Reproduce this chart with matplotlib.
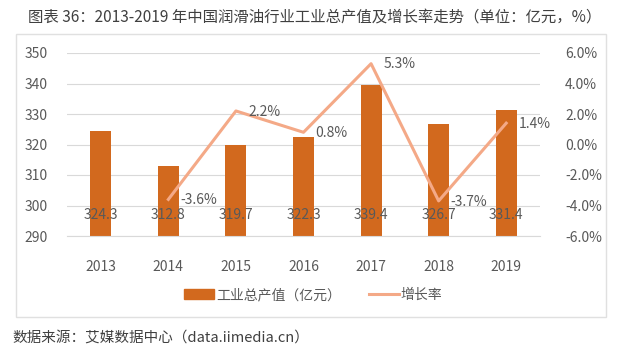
import matplotlib.pyplot as plt
import matplotlib.patches as mpatches
import numpy as np

plt.rcParams['font.family'] = ['Noto Sans CJK SC', 'DejaVu Sans']

years = ['2013', '2014', '2015', '2016', '2017', '2018', '2019']
output = [324.3, 312.8, 319.7, 322.3, 339.4, 326.7, 331.4]
growth_years = ['2014', '2015', '2016', '2017', '2018', '2019']
growth = [-3.6, 2.2, 0.8, 5.3, -3.7, 1.4]

BAR_COLOR = '#D2691E'
LINE_COLOR = '#F4A987'
TEXT_COLOR = '#595959'

fig = plt.figure(figsize=(6.4, 3.6), dpi=100)
ax = fig.add_axes([67 / 640, 1 - 236 / 360, (540 - 67) / 640, (236 - 53) / 360])
ax2 = ax.twinx()

x = np.arange(len(years))
ax.bar(x, [v - 290 for v in output], bottom=290, width=0.31, color=BAR_COLOR, zorder=2)
for xi, v in zip(x, output):
    ax.text(xi, 297, f'{v:.1f}', ha='center', va='center', fontsize=10, color=TEXT_COLOR, zorder=4)

ax.set_ylim(290, 350)
ax.set_yticks(range(290, 351, 10))
ax.set_xlim(-0.5, len(years) - 0.5)
ax.set_xticks(x)
ax.set_xticklabels(years)
ax.grid(axis='y', color='#D9D9D9', lw=0.8, zorder=0)
ax.set_axisbelow(True)
for s in ax.spines.values():
    s.set_visible(False)
ax.spines['bottom'].set_visible(True)
ax.spines['bottom'].set_color('#D9D9D9')
ax.tick_params(length=0, labelsize=10, labelcolor=TEXT_COLOR)
ax.tick_params(axis='x', pad=17)
ax.tick_params(axis='y', pad=14)

gx = [years.index(y) for y in growth_years]
ax2.plot(gx, growth, color=LINE_COLOR, lw=2.2, zorder=3)
ax2.set_ylim(-6, 6)
ax2.set_yticks(np.arange(-6, 6.1, 2))
ax2.set_yticklabels([f'{v:.1f}%' for v in np.arange(-6, 6.1, 2)])
for s in ax2.spines.values():
    s.set_visible(False)
ax2.tick_params(length=0, labelsize=10, labelcolor=TEXT_COLOR, pad=18)

# growth labels sit just right of each vertex
for xi, g in zip(gx, growth):
    ax2.text(xi + 0.18, g - 0.05, f'{g:.1f}%', ha='left', va='center', fontsize=10,
             color=TEXT_COLOR, zorder=5)

fig.text(28 / 640, 1 - 17 / 360, '图表 36：2013-2019 年中国润滑油行业工业总产值及增长率走势（单位：亿元，%）',
         fontsize=11.1, color='#404040', va='center', ha='left')
fig.text(12 / 640, 1 - 338 / 360, '数据来源：艾媒数据中心（data.iimedia.cn）',
         fontsize=10.5, color='#404040', va='center', ha='left')

box = mpatches.Rectangle((16 / 640, 1 - 317 / 360), (606 - 16) / 640, (317 - 34) / 360,
                         transform=fig.transFigure, fill=False, edgecolor='#E0E0E0', lw=1)
fig.patches.append(box)

handles = [mpatches.Patch(color=BAR_COLOR), plt.Line2D([], [], color=LINE_COLOR, lw=2.2)]
fig.legend(handles, ['工业总产值（亿元）', '增长率'], loc='center', bbox_to_anchor=(313 / 640, 1 - 295 / 360),
           ncol=2, frameon=False, fontsize=10, labelcolor=TEXT_COLOR, handlelength=2.2,
           handletextpad=0.1, columnspacing=2.0)

fig.savefig('out.png', dpi=100)
